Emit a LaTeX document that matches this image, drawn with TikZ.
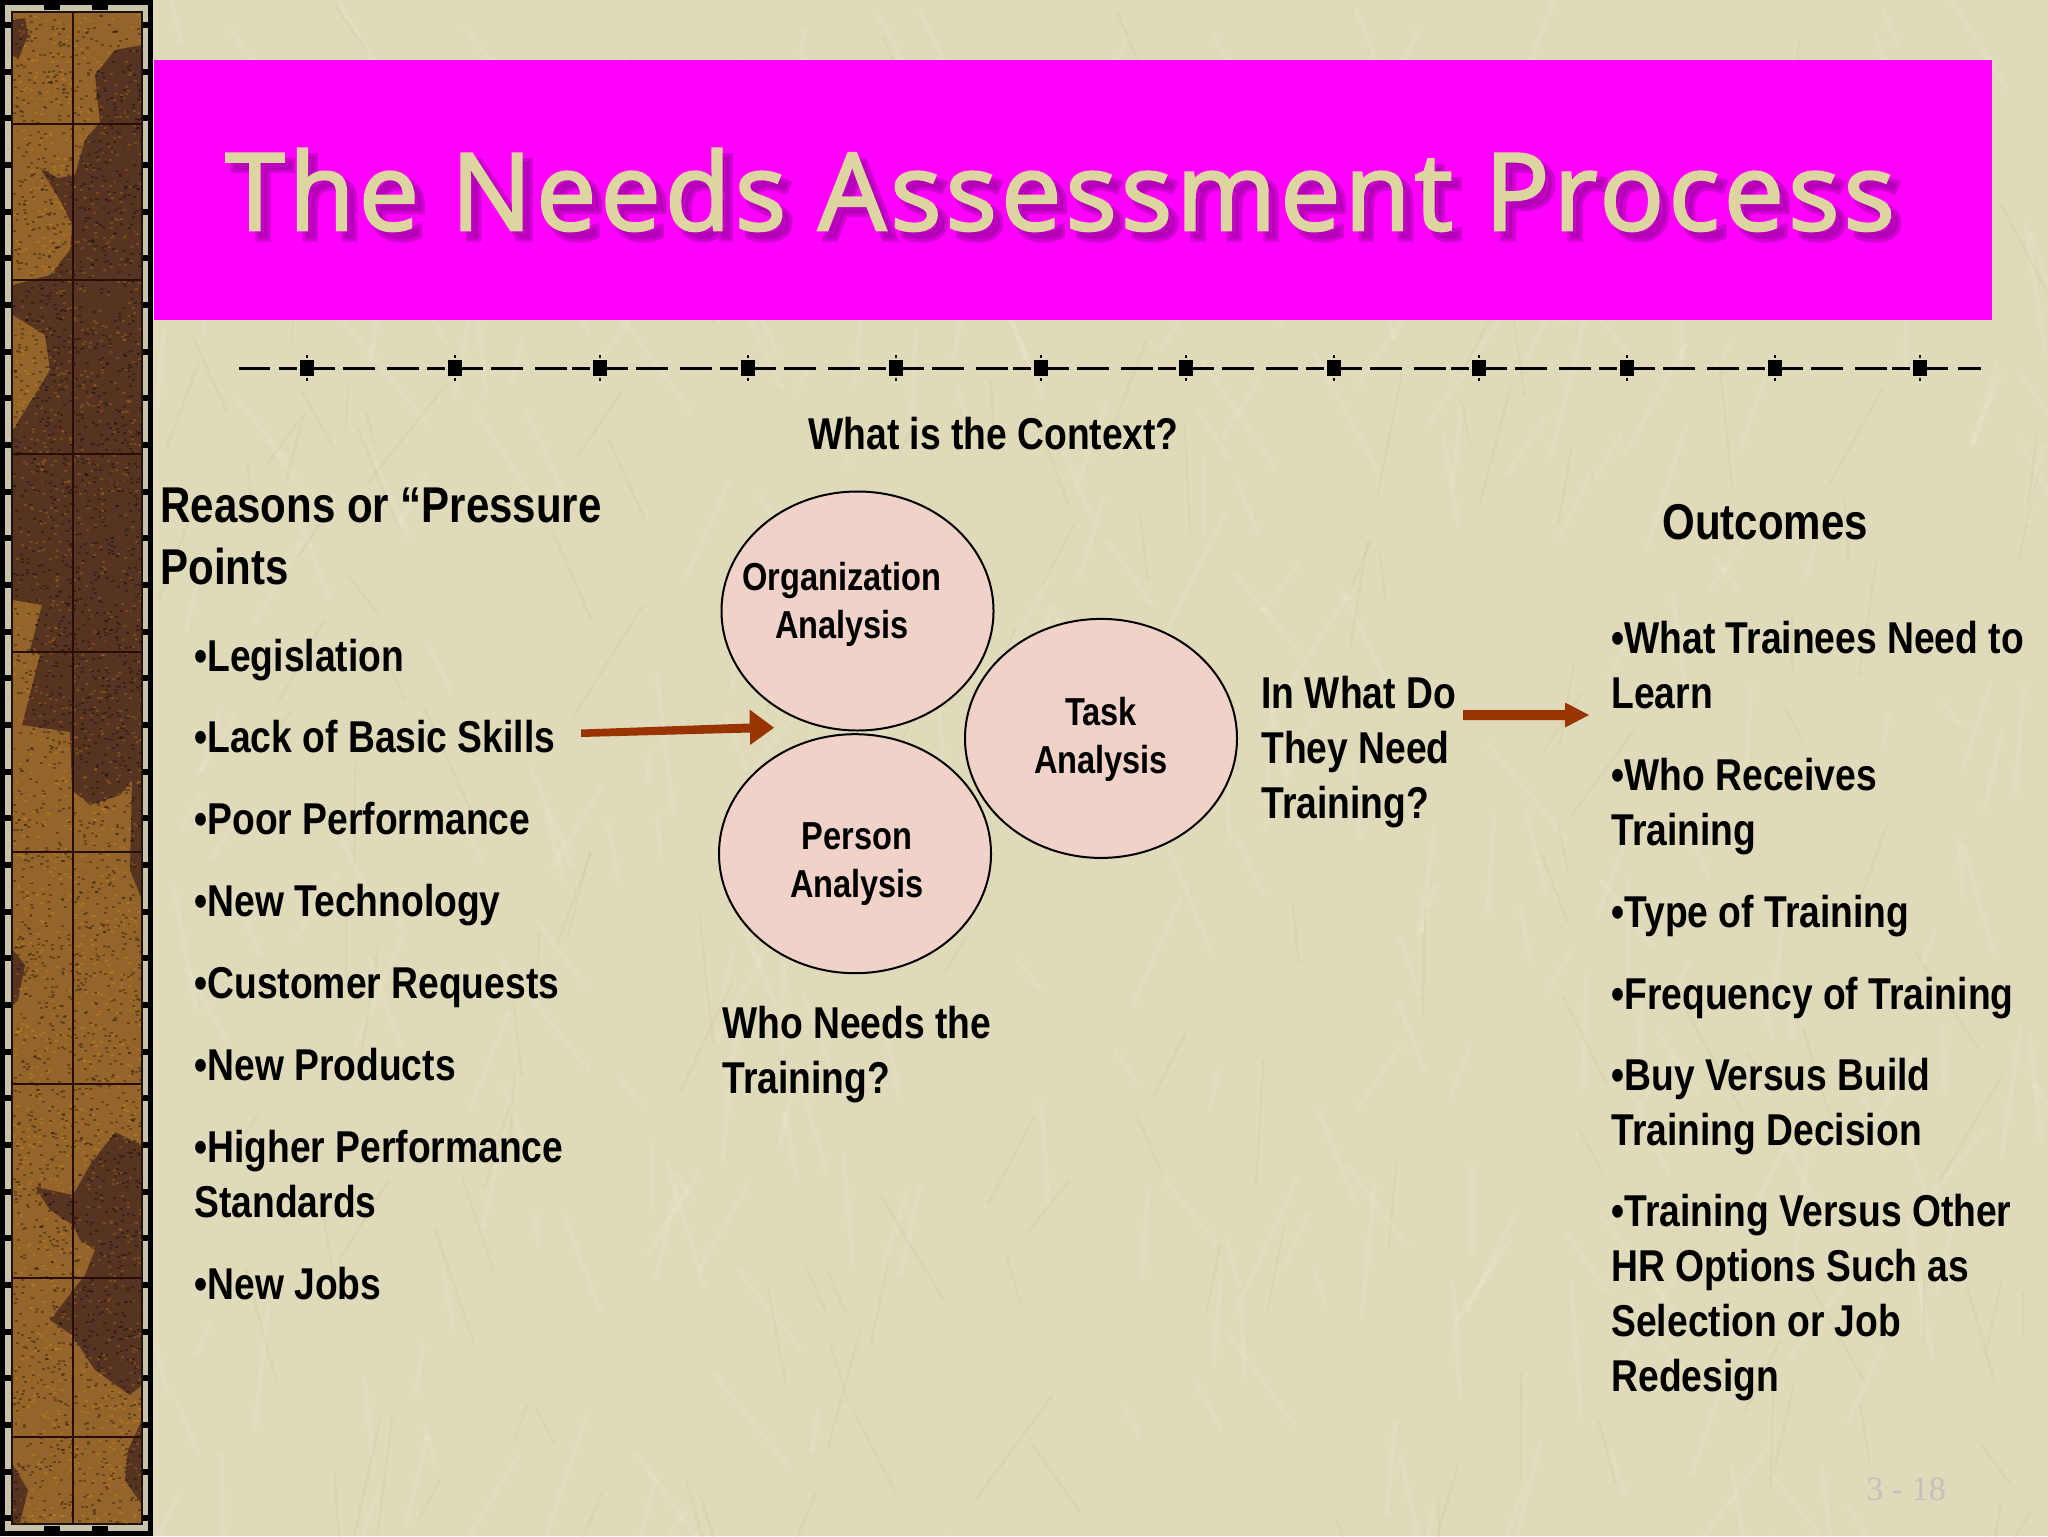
\documentclass[tikz,border=0pt]{standalone}
\usepackage{fontspec}
\usetikzlibrary{shapes.geometric}
\setmainfont{Liberation Sans}
\newfontfamily\nb[FakeStretch=0.835]{Liberation Sans}
\newfontfamily\ttl[LetterSpace=4.1]{Open Sans}
\newfontfamily\pgn{Liberation Serif}
\definecolor{paper}{HTML}{DFDAB9}
\definecolor{paperhi}{HTML}{F0ECD6}
\definecolor{paperlo}{HTML}{C4BE96}
\definecolor{brownA}{HTML}{94642A}
\definecolor{brownB}{HTML}{573422}
\definecolor{framelt}{HTML}{C9C3AE}
\definecolor{stripln}{HTML}{2A0E05}
\definecolor{arrowc}{HTML}{993300}
\definecolor{bubble}{HTML}{F0D2C8}
\definecolor{ttlc}{HTML}{DDD5A0}
\definecolor{pgc}{HTML}{C6C0BC}
\definecolor{band}{HTML}{FF00FF}
\definecolor{bandsh}{HTML}{8A0090}
\newcommand{\strokedtext}[2]{\special{pdf:code 2 Tr #1 w}#2\special{pdf:code 0 Tr}}
\tikzset{
  x=0.5pt,y=-0.5pt,
  head/.style={anchor=base west,align=left,inner sep=0pt,font=\nb\bfseries\fontsize{25.15}{31}\selectfont},
  itm/.style={anchor=base west,align=left,inner sep=0pt,font=\nb\bfseries\fontsize{22.3}{27.4}\selectfont},
  inb/.style={anchor=base,align=center,inner sep=0pt,font=\nb\bfseries\fontsize{19.5}{24}\selectfont},
  blob/.style={ellipse,draw=black,line width=1pt,fill=bubble,inner sep=0pt,minimum width=136pt,minimum height=119.5pt},
  flow/.style={fill=arrowc,draw=none},
  rulei/.style={black,line width=1.5pt},
  darkpatch/.style={fill=brownB,draw=none},
  stripline/.style={stripln,line width=1pt},
  ttltext/.style={anchor=base west,inner sep=0pt,font=\ttl\fontsize{53.5}{60}\selectfont}
}
\begin{document}
\begin{tikzpicture}
\useasboundingbox (0,0) rectangle (2048,1536);
% paper background with mottling
\fill[paper] (0,0) rectangle (2048,1536);
\pgfmathsetseed{11}
\foreach \i in {1,...,320}{
  \pgfmathsetmacro\xa{154+rnd*1894}\pgfmathsetmacro\ya{rnd*1536}
  \pgfmathsetmacro\ang{50+rnd*80}\pgfmathsetmacro\len{30+rnd*110}
  \draw[paperhi,opacity=.22,line width=2.5pt,line cap=round] (\xa,\ya) -- ++(\ang:\len);
}
\foreach \i in {1,...,160}{
  \pgfmathsetmacro\xa{154+rnd*1894}\pgfmathsetmacro\ya{rnd*1536}
  \pgfmathsetmacro\ang{50+rnd*80}\pgfmathsetmacro\len{30+rnd*100}
  \draw[paperlo,opacity=.18,line width=1.2pt,line cap=round] (\xa,\ya) -- ++(\ang:\len);
}
% left strip
\fill[black] (0,0) rectangle (153,1536);
\fill[framelt] (5,5) rectangle (148,1531);
\fill[black!85!brown] (11,11) rectangle (143,1525);
\begin{scope}
\clip (13,13) rectangle (141,1523);
\fill[brownA] (13,13) rectangle (141,1523);
\fill[darkpatch] (142,45) -- (115,50) -- (95,75) -- (100,122) -- (85,140) -- (75,175) -- (58,178) -- (40,168) -- (60,200) -- (72,225) -- (70,250) -- (50,275) -- (13,285) -- (13,315) -- (45,335) -- (50,370) -- (13,430) -- (13,600) -- (42,605) -- (30,650) -- (40,655) -- (22,725) -- (70,732) -- (72,790) -- (90,805) -- (120,795) -- (132,780) -- (130,870) -- (142,900) -- cycle;
\fill[darkpatch] (13,20) -- (25,18) -- (28,35) -- (18,60) -- (13,55) -- cycle;
\fill[darkpatch] (142,1145) -- (115,1132) -- (90,1165) -- (73,1195) -- (35,1187) -- (50,1210) -- (73,1225) -- (80,1240) -- (95,1250) -- (85,1275) -- (50,1320) -- (72,1335) -- (95,1370) -- (130,1395) -- (142,1385) -- cycle;
\fill[darkpatch] (13,950) -- (25,965) -- (18,1000) -- (13,1005) -- cycle;
\fill[darkpatch] (13,1465) -- (28,1490) -- (20,1523) -- (13,1523) -- cycle;
\fill[darkpatch] (142,1420) -- (128,1450) -- (125,1480) -- (142,1505) -- cycle;
\pgfmathsetseed{5}
\foreach \i in {1,...,2600}{
  \pgfmathsetmacro\xa{13+rnd*128}\pgfmathsetmacro\ya{13+rnd*1510}
  \fill[black,opacity=.30] (\xa,\ya) rectangle ++(3,2);
}
\foreach \i in {1,...,1500}{
  \pgfmathsetmacro\xa{13+rnd*128}\pgfmathsetmacro\ya{13+rnd*1510}
  \fill[orange!70!yellow,opacity=.20] (\xa,\ya) rectangle ++(3,2);
}
\end{scope}
\foreach \ya in {123.5,280,454,652,852,1084,1278,1437} {\draw[stripline] (13,\ya) -- (141,\ya);}
\draw[stripline] (73,13) -- (73,1523);
\foreach \ya in {25,72,118,165,212,258,305,352,398,445,492,538,585,632,678,725,772,818,865,912,958,1005,1052,1098,1145,1192,1238,1285,1332,1378,1425,1472,1518}{
  \fill[black] (5,\ya-3) rectangle (11,\ya+3);
  \fill[black] (143,\ya-3) rectangle (148,\ya+3);
}
\foreach \xa in {52,100}{
  \fill[black] (\xa-8,5) rectangle (\xa+8,10);
  \fill[black] (\xa-8,1526) rectangle (\xa+8,1531);
}
% title band
\fill[band] (154,60) rectangle (1992,319.5);
\node[ttltext,text=bandsh,opacity=.4] (titlesh) at (233,238) {\strokedtext{3.5}{The Needs Assessment Process}};
\node[ttltext,text=ttlc] (title) at (225,230) {\strokedtext{1.3}{The Needs Assessment Process}};
% ornamental rule
\draw[rulei] (239,368) -- (270,368);
\foreach \c in {306.7,455,600,748,896,1041,1186,1334,1479,1627,1775,1920}{
  \draw[rulei] ({\c-28},368) -- ({\c-10},368);
  \draw[rulei] ({\c+7},368) -- ({\c+28},368);
  \fill[black] ({\c-7},360) rectangle ({\c+7},376);
  \fill[black] ({\c-1},355) rectangle ({\c+1},358);
  \fill[black] ({\c-1},378) rectangle ({\c+1},381);
}
\foreach \c in {306.7,455,600,748,896,1041,1186,1334,1479,1627,1775}{
  \draw[rulei] ({\c+36},368) -- ({\c+68},368);
  \draw[rulei] ({\c+80},368) -- ({\c+112},368);
}
\draw[rulei] (1958,368) -- (1981,368);
% texts
\node[itm] (ctx) at (808,449) {What is the Context?};
\node[head] (reasons) at (160,584) {Reasons or “Pressure\\[0pt]Points};
\node[itm] (l1) at (194,671) {•Legislation};
\node[itm] (l2) at (194,752) {•Lack of Basic Skills};
\node[itm] (l3) at (194,834.5) {•Poor Performance};
\node[itm] (l4) at (194,916) {•New Technology};
\node[itm] (l5) at (194,998) {•Customer Requests};
\node[itm] (l6) at (194,1080) {•New Products};
\node[itm] (l7) at (194,1217) {•Higher Performance\\[0pt]Standards};
\node[itm] (l8) at (194,1299) {•New Jobs};
\node[head] (outc) at (1662,539) {Outcomes};
\node[itm] (r1) at (1611,708) {•What Trainees Need to\\[0pt]Learn};
\node[itm] (r2) at (1611,845) {•Who Receives\\[0pt]Training};
\node[itm] (r3) at (1611,927) {•Type of Training};
\node[itm] (r4) at (1611,1009) {•Frequency of Training};
\node[itm] (r5) at (1611,1145) {•Buy Versus Build\\[0pt]Training Decision};
\node[itm] (r6) at (1611,1391) {•Training Versus Other\\[0pt]HR Options Such as\\[0pt]Selection or Job\\[0pt]Redesign};
\node[itm] (inwhat) at (1261,818) {In What Do\\[0pt]They Need\\[0pt]Training?};
\node[itm] (who) at (722,1093) {Who Needs the\\[0pt]Training?};
% bubbles
\node[blob] (org) at (857.5,611) {};
\node[blob] (task) at (1101,738.4) {};
\node[blob] (person) at (855,853.7) {};
\node[inb] (orgt) at (842,638.6) {Organization\\[0pt]Analysis};
\node[inb] (taskt) at (1101,773) {Task\\[0pt]Analysis};
\node[inb] (persont) at (857,897) {Person\\[0pt]Analysis};
% arrows
\coordinate (a1e) at (774,727.7);
\coordinate (a2e) at (1589,715);
\fill[flow] (581,737) -- (750,732.5) -- (750,745) -- (a1e) -- (749.5,709.5) -- (749.5,723.5) -- (581,729.5) -- cycle;
\fill[flow] (1463,710) -- (1565,710) -- (1565,702.5) -- (a2e) -- (1565,727.5) -- (1565,720) -- (1463,720) -- cycle;
\node[anchor=base west,inner sep=0pt,text=pgc,font=\pgn\fontsize{17}{20}\selectfont] (pageno) at (1866,1500) {3 - 18};
\end{tikzpicture}
\end{document}
